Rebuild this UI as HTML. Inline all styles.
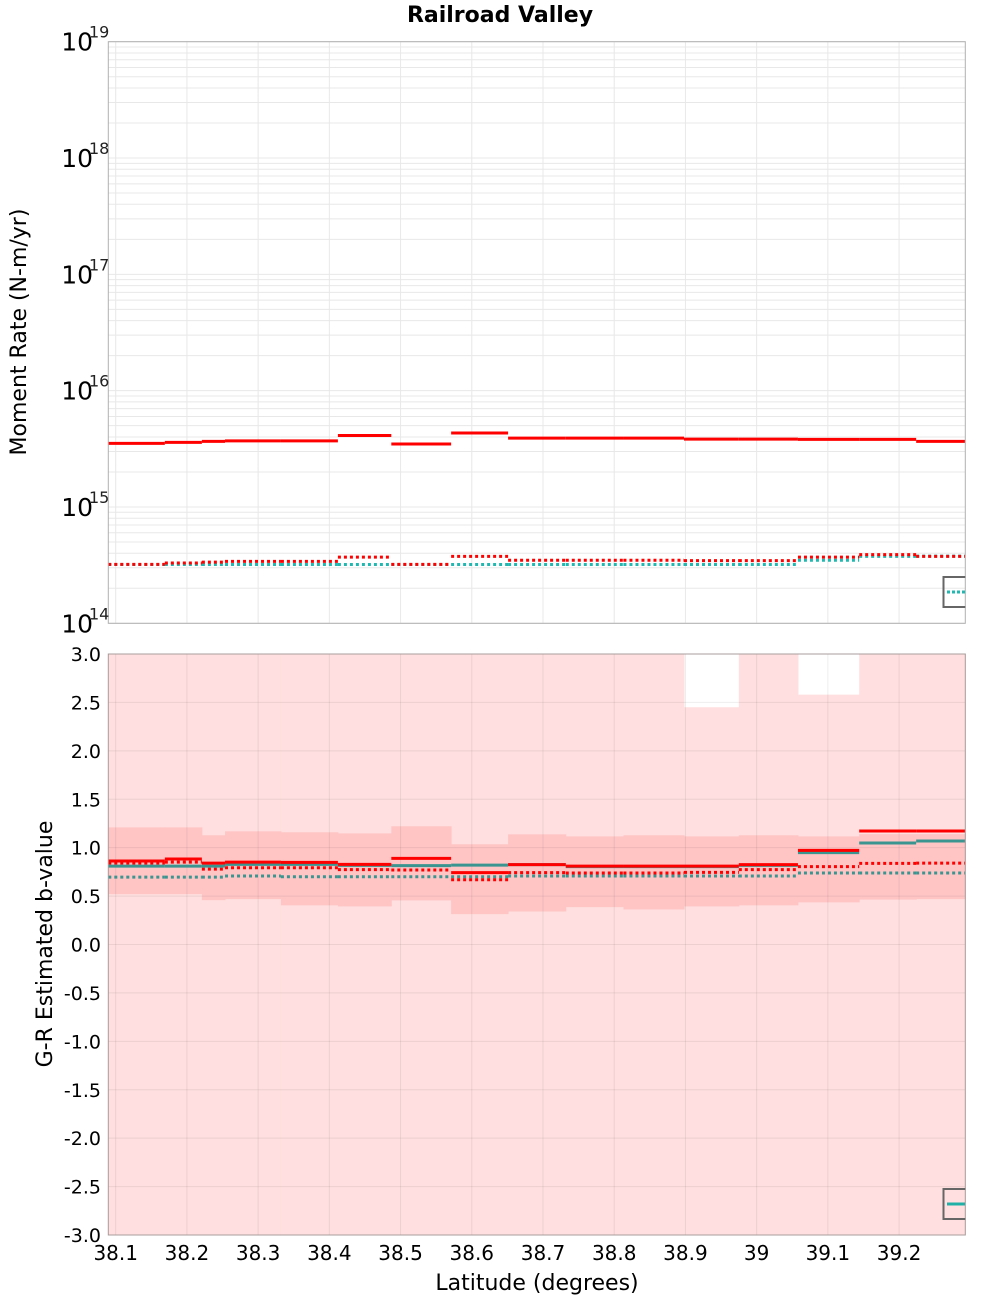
<!DOCTYPE html>
<html><head><meta charset="utf-8"><style>
html,body{margin:0;padding:0;background:#fff;}
svg{display:block;font-family:"Liberation Sans","DejaVu Sans",sans-serif;}
</style></head><body>
<svg id="chart" width="1000" height="1300" viewBox="0 0 1000 1300" xmlns="http://www.w3.org/2000/svg">
<text x="500" y="22" text-anchor="middle" font-size="22" font-weight="bold" font-family="DejaVu Sans, sans-serif">Railroad Valley</text>
<text transform="translate(26,332) rotate(-90)" text-anchor="middle" font-size="22" font-family="DejaVu Sans, sans-serif">Moment Rate (N-m/yr)</text>
<text transform="translate(52,944) rotate(-90)" text-anchor="middle" font-size="22" font-family="DejaVu Sans, sans-serif">G-R Estimated b-value</text>
<text x="537" y="1290" text-anchor="middle" font-size="22" font-family="DejaVu Sans, sans-serif">Latitude (degrees)</text>
<g id="topPlot"></g>
<g id="botPlot"></g>
</svg>
<script>
const bounds = [38.0896,38.169,38.221,38.2535,38.332,38.412,38.487,38.571,38.651,38.732,38.813,38.898,38.975,39.058,39.144,39.224,39.293];
const xTicks = [38.1,38.2,38.3,38.4,38.5,38.6,38.7,38.8,38.9,39.0,39.1,39.2];
const xTickLabels = ["38.1","38.2","38.3","38.4","38.5","38.6","38.7","38.8","38.9","39","39.1","39.2"];
const topRedSolid = [3.52e15,3.59e15,3.66e15,3.70e15,3.70e15,4.12e15,3.48e15,4.33e15,3.91e15,3.91e15,3.91e15,3.83e15,3.83e15,3.81e15,3.81e15,3.66e15];
const topRedDot = [3.21e14,3.30e14,3.36e14,3.41e14,3.41e14,3.71e14,3.21e14,3.76e14,3.48e14,3.48e14,3.48e14,3.46e14,3.46e14,3.71e14,3.89e14,3.76e14];
const topCyanDot = [3.2e14,3.2e14,3.2e14,3.2e14,3.2e14,3.2e14,3.2e14,3.2e14,3.2e14,3.2e14,3.2e14,3.2e14,3.2e14,3.48e14,3.76e14,3.78e14];
const topDecades = [14,15,16,17,18,19];
const bRedSolid = [0.862,0.883,0.841,0.851,0.848,0.828,0.890,0.742,0.825,0.810,0.810,0.810,0.825,0.972,1.172,1.172];
const bTealSolid = [0.810,0.810,0.810,0.828,0.828,0.817,0.814,0.820,0.825,0.804,0.804,0.804,0.817,0.949,1.048,1.069];
const bRedDot = [0.841,0.851,0.779,0.793,0.793,0.773,0.769,0.669,0.742,0.738,0.738,0.745,0.773,0.804,0.838,0.841];
const bTealDot = [0.696,0.696,0.696,0.707,0.700,0.700,0.700,0.700,0.707,0.707,0.707,0.707,0.707,0.738,0.738,0.738];
const innerUpper = [1.21,1.21,1.128,1.169,1.159,1.148,1.221,1.035,1.138,1.117,1.128,1.117,1.128,1.117,1.14,1.14];
const innerLower = [0.52,0.52,0.458,0.469,0.404,0.393,0.455,0.314,0.341,0.386,0.362,0.393,0.404,0.435,0.463,0.469];
const outerUpper = [3.5,3.5,3.5,3.5,3.5,3.5,3.5,3.5,3.5,3.5,3.5,2.45,3.5,2.58,3.5,3.5];
const outerLower = [-3.5,-3.5,-3.5,-3.5,-3.5,-3.5,-3.5,-3.5,-3.5,-3.5,-3.5,-3.5,-3.5,-3.5,-3.5,-3.5];
const bTicks = [3,2.5,2,1.5,1,0.5,0,-0.5,-1,-1.5,-2,-2.5,-3];

const NS="http://www.w3.org/2000/svg";
const L=108.3,R=965.3,T1=41.7,B1=623.3,T2=654,B2=1235;
const xs=v=>L+(v-bounds[0])/(bounds[bounds.length-1]-bounds[0])*(R-L);
const ys1=v=>B1-(Math.log10(v)-14)/5*(B1-T1);
const ys2=v=>T2+(3-Math.max(-3,Math.min(3,v)))/6*(B2-T2);
function mk(p,t,a){const e=document.createElementNS(NS,t);for(const k in a)e.setAttribute(k,a[k]);p.appendChild(e);return e;}
const topG=document.getElementById('topPlot'), botG=document.getElementById('botPlot');

for(const d of topDecades){for(let m=1;m<10;m++){if(d===19&&m>1)break;const y=ys1(m*Math.pow(10,d));
 const g=mk(topG,'line',{x1:L,x2:R,y1:y,y2:y,stroke:'#e8e8e8','stroke-width':1});
 
 }}
xTicks.forEach(t=>{const g=mk(topG,'line',{x1:xs(t),x2:xs(t),y1:T1,y2:B1,stroke:'#e8e8e8','stroke-width':1});
 
 });
function steps(p,arr,ys,color,dash,name,w){arr.forEach((v,i)=>{const a={x1:xs(bounds[i]),x2:xs(bounds[i+1]),y1:ys(v),y2:ys(v),stroke:color,'stroke-width':w||3};if(dash)a['stroke-dasharray']=dash;
 const e=mk(p,'line',a);
 
 });}
steps(topG,topCyanDot,ys1,'#20b8b0','3,3','top-cyan-dotted');
steps(topG,topRedDot,ys1,'#ff0000','3,3','top-red-dotted');
steps(topG,topRedSolid,ys1,'#ff0000',null,'top-red-solid');
let f=mk(topG,'rect',{x:L,y:T1,width:R-L,height:B1-T1,fill:'none',stroke:'#b0b0b0','stroke-width':1});


let lg=mk(topG,'path',{d:`M${R} 577 H943.5 V607 H${R}`,fill:'none',stroke:'#666','stroke-width':2});


let ll=mk(topG,'line',{x1:947,x2:965,y1:592,y2:592,stroke:'#20b8b0','stroke-width':3,'stroke-dasharray':'3,2'});


topDecades.forEach(d=>{const y=ys1(Math.pow(10,d));
 const t=mk(topG,'text',{x:93,y:y+9,'text-anchor':'end','font-size':25,'font-family':'DejaVu Sans, sans-serif'});t.textContent='10';
 
 
 const s=mk(topG,'text',{x:89,y:y-4,'font-size':16,fill:'#222','font-family':'DejaVu Sans, sans-serif'});s.textContent=String(d);
 
 });

function band(up,lo,color,name){up.forEach((u,i)=>{const y1=ys2(u),y2=ys2(lo[i]);
 const r=mk(botG,'rect',{x:xs(bounds[i]),y:y1,width:xs(bounds[i+1])-xs(bounds[i])+0.5,height:y2-y1,fill:color});
 
 });}
band(outerUpper,outerLower,'#ffdfdf','outer-confidence-band');
band(innerUpper,innerLower,'#ffc5c5','inner-confidence-band');
bTicks.forEach(t=>{const y=ys2(t);const g=mk(botG,'line',{x1:L,x2:R,y1:y,y2:y,stroke:'rgba(0,0,0,0.07)','stroke-width':1});
 
 
 const tx=mk(botG,'text',{x:101,y:y+7,'text-anchor':'end','font-size':19,'font-family':'DejaVu Sans, sans-serif'});tx.textContent=t.toFixed(1);
 
 });
xTicks.forEach((t,i)=>{const g=mk(botG,'line',{x1:xs(t),x2:xs(t),y1:T2,y2:B2,stroke:'rgba(0,0,0,0.07)','stroke-width':1});
 
 
 const tx=mk(botG,'text',{x:xs(t),y:1260,'text-anchor':'middle','font-size':20,'font-family':'DejaVu Sans, sans-serif'});tx.textContent=xTickLabels[i];
 
 });
steps(botG,bTealDot,ys2,'#3a9590','3,3','bottom-teal-dotted');
steps(botG,bRedDot,ys2,'#ff0000','3,3','bottom-red-dotted');
steps(botG,bTealSolid,ys2,'#3a9590',null,'bottom-teal-solid');
steps(botG,bRedSolid,ys2,'#ff0000',null,'bottom-red-solid');
f=mk(botG,'rect',{x:L,y:T2,width:R-L,height:B2-T2,fill:'none',stroke:'#a89c9c','stroke-width':1});


lg=mk(botG,'path',{d:`M${R} 1189 H943.5 V1219 H${R}`,fill:'none',stroke:'#666','stroke-width':2});


ll=mk(botG,'line',{x1:947,x2:965,y1:1204,y2:1204,stroke:'#20b0a8','stroke-width':3});


</script>
</body></html>
